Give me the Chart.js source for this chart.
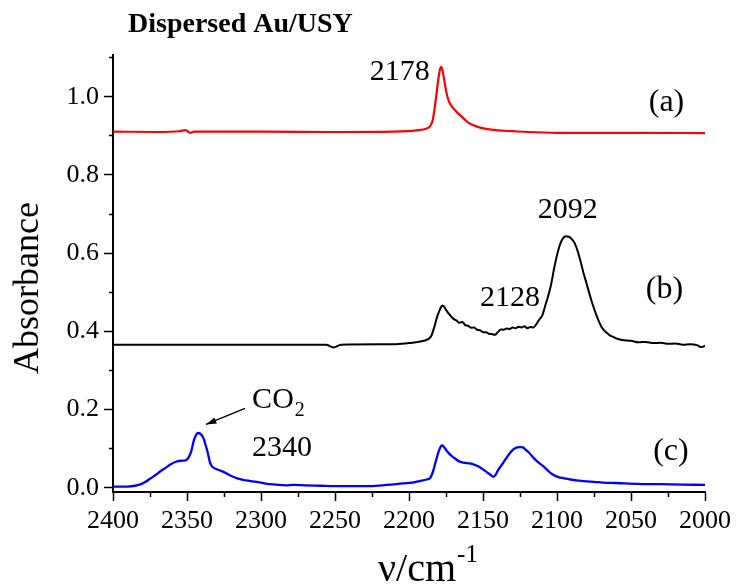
<!DOCTYPE html>
<html>
<head>
<meta charset="utf-8">
<script src="https://cdn.jsdelivr.net/npm/chart.js@4.4.1/dist/chart.umd.min.js"></script>
<style>
  body { margin: 0; background: #fff; }
  #wrap { width: 737px; height: 586px; }
</style>
</head>
<body>
<div id="wrap"><canvas id="irChart"></canvas></div>
<script>
// (a) red spectrum
const aWave = [2400, 2370, 2355, 2351, 2348, 2345, 2300, 2250, 2210, 2195, 2188, 2186, 2184, 2182, 2180, 2179, 2178.3, 2177.5, 2176.5, 2175.5, 2174.5, 2173, 2171, 2168, 2164, 2160, 2155, 2148, 2140, 2130, 2120, 2100, 2050, 2000];
const aAbs  = [0.911, 0.910, 0.912, 0.915, 0.908, 0.911, 0.911, 0.910, 0.911, 0.914, 0.919, 0.924, 0.940, 0.990, 1.050, 1.072, 1.077, 1.070, 1.050, 1.027, 1.007, 0.988, 0.975, 0.962, 0.948, 0.934, 0.925, 0.918, 0.914, 0.912, 0.910, 0.908, 0.908, 0.907];

// (b) black spectrum
const bWave = [2400, 2350, 2300, 2256, 2251, 2246, 2210, 2200, 2195, 2190, 2187, 2185, 2183, 2181, 2179, 2177.5, 2176, 2175, 2172, 2170, 2168, 2166, 2164, 2162, 2160, 2158, 2156, 2154, 2152, 2150, 2148, 2146, 2144, 2142, 2140, 2138, 2136, 2134, 2132, 2130, 2128, 2126, 2124, 2122, 2120, 2118, 2116, 2114, 2112, 2110, 2108, 2106, 2104, 2102, 2100, 2098, 2096, 2094, 2092, 2090, 2088, 2086, 2084, 2082, 2080, 2078, 2076, 2074, 2072, 2070, 2068, 2066, 2064, 2062, 2060, 2056, 2050, 2045, 2040, 2035, 2030, 2025, 2020, 2015, 2010, 2005, 2003, 2001, 2000];
const bAbs  = [0.366, 0.366, 0.366, 0.366, 0.359, 0.366, 0.367, 0.370, 0.372, 0.376, 0.380, 0.388, 0.410, 0.437, 0.457, 0.466, 0.462, 0.455, 0.440, 0.432, 0.428, 0.422, 0.424, 0.416, 0.414, 0.409, 0.410, 0.404, 0.403, 0.398, 0.398, 0.394, 0.393, 0.391, 0.398, 0.405, 0.404, 0.407, 0.406, 0.410, 0.408, 0.412, 0.410, 0.413, 0.408, 0.411, 0.410, 0.418, 0.430, 0.440, 0.465, 0.490, 0.520, 0.560, 0.595, 0.622, 0.638, 0.643, 0.642, 0.636, 0.625, 0.605, 0.578, 0.548, 0.522, 0.495, 0.470, 0.448, 0.428, 0.412, 0.402, 0.395, 0.389, 0.386, 0.382, 0.378, 0.376, 0.372, 0.373, 0.370, 0.371, 0.368, 0.369, 0.366, 0.367, 0.364, 0.360, 0.361, 0.364];

// (c) blue spectrum
const cWave = [2400, 2390, 2385, 2381, 2378, 2375, 2371, 2368, 2364, 2361, 2357, 2354, 2351, 2349, 2347, 2345.5, 2344, 2342.8, 2341, 2339, 2337.5, 2336, 2334.5, 2333, 2331, 2327, 2323, 2320, 2316, 2312, 2307, 2300, 2296, 2290, 2283, 2278, 2270, 2260, 2250, 2226, 2215, 2204, 2198, 2193, 2188, 2185.5, 2183.5, 2182, 2180, 2178.5, 2177.5, 2176, 2174, 2172, 2169, 2166.5, 2163, 2159, 2156, 2153, 2150, 2147.5, 2145, 2143, 2141, 2139.5, 2137, 2134, 2131.5, 2129.5, 2127, 2125, 2123, 2121.5, 2119, 2116, 2113, 2110, 2107, 2104.5, 2102, 2099, 2095, 2091, 2085, 2080, 2075, 2069, 2060, 2046, 2030, 2015, 2000];
const cAbs  = [0.003, 0.003, 0.005, 0.009, 0.015, 0.023, 0.033, 0.042, 0.052, 0.060, 0.067, 0.069, 0.070, 0.077, 0.095, 0.119, 0.134, 0.140, 0.138, 0.128, 0.110, 0.090, 0.065, 0.054, 0.049, 0.043, 0.036, 0.030, 0.024, 0.020, 0.017, 0.013, 0.010, 0.008, 0.006, 0.007, 0.006, 0.005, 0.004, 0.004, 0.007, 0.011, 0.013, 0.017, 0.021, 0.026, 0.045, 0.066, 0.092, 0.106, 0.108, 0.102, 0.092, 0.084, 0.075, 0.068, 0.064, 0.062, 0.059, 0.054, 0.047, 0.040, 0.033, 0.028, 0.036, 0.047, 0.060, 0.077, 0.090, 0.098, 0.103, 0.104, 0.103, 0.098, 0.090, 0.077, 0.066, 0.057, 0.047, 0.038, 0.032, 0.027, 0.024, 0.021, 0.018, 0.016, 0.015, 0.013, 0.012, 0.010, 0.009, 0.008, 0.007];

const xTickStep = 25;
const yTickStep = 0.1;

function pairs(xs, ys) {
    return xs.map((x, i) => ({ x: x, y: ys[i] }));
}

const serif = 'Liberation Serif';

// labels placed in data coordinates
const notes = [
    { text: '2178', x: 2186, y: 1.063, size: 30, align: 'right' },
    { text: '(a)', x: 2038, y: 0.984, size: 32, align: 'left' },
    { text: '2092', x: 2113, y: 0.711, size: 30, align: 'left' },
    { text: '2128', x: 2152, y: 0.484, size: 30, align: 'left' },
    { text: '(b)', x: 2040, y: 0.507, size: 32, align: 'left' },
    { text: '(c)', x: 2035, y: 0.093, size: 32, align: 'left' },
    { text: '2340', x: 2306, y: 0.100, size: 30, align: 'left' }
];

const textPlugin = {
    id: 'texts',
    afterDraw(chart) {
        const ctx = chart.ctx;
        const xs = chart.scales.x;
        const ys = chart.scales.y;
        ctx.save();
        ctx.fillStyle = '#000';
        ctx.textBaseline = 'middle';

        notes.forEach(n => {
            ctx.font = n.size + 'px "' + serif + '"';
            ctx.textAlign = n.align;
            ctx.fillText(n.text, xs.getPixelForValue(n.x), ys.getPixelForValue(n.y));
        });

        // CO2 with subscript
        let px = xs.getPixelForValue(2306);
        let py = ys.getPixelForValue(0.223);
        ctx.textAlign = 'left';
        ctx.font = '30px "' + serif + '"';
        ctx.fillText('CO', px, py);
        let w = ctx.measureText('CO').width;
        ctx.font = '20px "' + serif + '"';
        ctx.fillText('2', px + w + 1, py + 10);

        // arrow to the CO2 band
        const x1 = xs.getPixelForValue(2310.8), y1 = ys.getPixelForValue(0.203);
        const x2 = xs.getPixelForValue(2337.2), y2 = ys.getPixelForValue(0.162);
        ctx.strokeStyle = '#000';
        ctx.lineWidth = 1.3;
        ctx.beginPath();
        ctx.moveTo(x1, y1);
        ctx.lineTo(x2, y2);
        ctx.stroke();
        const ang = Math.atan2(y2 - y1, x2 - x1);
        ctx.beginPath();
        ctx.moveTo(x2, y2);
        ctx.lineTo(x2 - 11 * Math.cos(ang - 0.3), y2 - 11 * Math.sin(ang - 0.3));
        ctx.lineTo(x2 - 11 * Math.cos(ang + 0.3), y2 - 11 * Math.sin(ang + 0.3));
        ctx.closePath();
        ctx.fill();

        // title
        ctx.textBaseline = 'alphabetic';
        ctx.font = 'bold 28px "' + serif + '"';
        ctx.fillText('Dispersed Au/USY', 128, 32);

        // x axis title with superscript
        ctx.font = '40px "' + serif + '"';
        ctx.fillText('\u03bd/cm', 378, 581);
        w = ctx.measureText('\u03bd/cm').width;
        ctx.font = '25px "' + serif + '"';
        ctx.fillText('-1', 378 + w + 1, 562);

        // y axis title
        ctx.translate(29, 288);
        ctx.rotate(-Math.PI / 2);
        ctx.textAlign = 'center';
        ctx.textBaseline = 'middle';
        ctx.font = '36px "' + serif + '"';
        ctx.fillText('Absorbance', 0, 0);
        ctx.restore();
    }
};

function isMinor(v, step) {
    return Math.round(v / step) % 2 !== 0;
}

const ctx = document.getElementById('irChart').getContext('2d');

const irChart = new Chart(ctx, {
    type: 'line',
    data: {
        datasets: [{
            label: '(a)',
            data: pairs(aWave, aAbs),
            borderColor: 'rgb(255, 0, 0)',
            borderWidth: 2.2,
        }, {
            label: '(b)',
            data: pairs(bWave, bAbs),
            borderColor: 'rgb(0, 0, 0)',
            borderWidth: 2,
        }, {
            label: '(c)',
            data: pairs(cWave, cAbs),
            borderColor: 'rgb(0, 0, 255)',
            borderWidth: 2.3,
        }]
    },
    options: {
        responsive: true,
        maintainAspectRatio: false,
        animation: false,
        elements: {
            point: { radius: 0 },
            line: { cubicInterpolationMode: 'monotone', fill: false }
        },
        layout: {
            padding: { top: 55, right: 32, left: 0, bottom: 0 }
        },
        scales: {
            x: {
                type: 'linear',
                min: 2000,
                max: 2400,
                reverse: true,
                afterFit: (s) => { s.height = 94; },
                border: { color: '#000', width: 2 },
                grid: {
                    drawOnChartArea: false,
                    tickLength: 9,
                    tickWidth: 1.5,
                    tickColor: '#000',
                    tickBorderDash: (c) => isMinor(c.tick.value, xTickStep) ? [4, 20] : [],
                },
                ticks: {
                    stepSize: xTickStep,
                    autoSkip: false,
                    maxRotation: 0,
                    padding: 5,
                    color: '#000',
                    font: { family: serif, size: 26 },
                    callback: (v) => isMinor(v, xTickStep) ? '' : String(v)
                }
            },
            y: {
                min: -0.011,
                max: 1.107,
                afterFit: (s) => { s.width = 113; },
                border: { color: '#000', width: 2 },
                grid: {
                    drawOnChartArea: false,
                    tickLength: 9,
                    tickWidth: 1.5,
                    tickColor: '#000',
                    tickBorderDash: (c) => isMinor(c.tick.value, yTickStep) ? [4, 5] : [],
                    tickBorderDashOffset: (c) => isMinor(c.tick.value, yTickStep) ? 4 : 0,
                },
                ticks: {
                    stepSize: yTickStep,
                    includeBounds: false,
                    padding: 5,
                    color: '#000',
                    font: { family: serif, size: 26 },
                    callback: (v) => isMinor(v, yTickStep) ? '' : v.toFixed(1)
                }
            }
        },
        plugins: {
            legend: { display: false },
            tooltip: { enabled: false }
        }
    },
    plugins: [textPlugin]
});
</script>
</body>
</html>
